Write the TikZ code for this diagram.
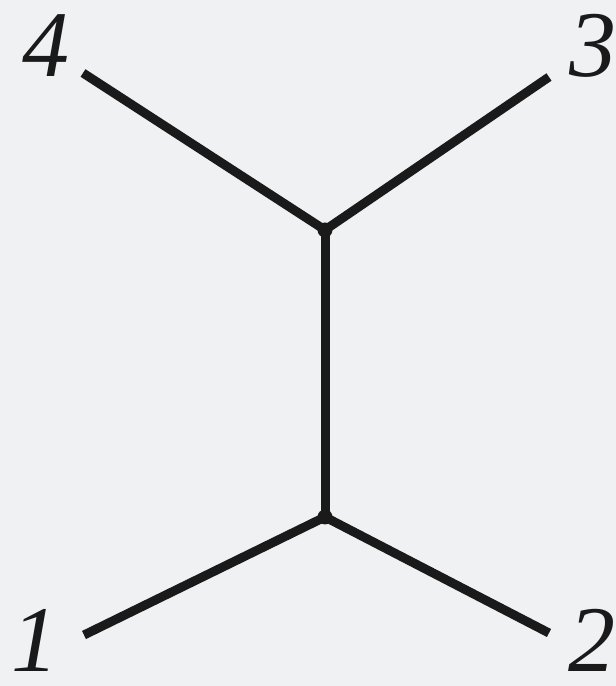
\documentclass[tikz,border=0pt]{standalone}
\usepackage{fontspec}
\newfontfamily\labelfont{Liberation Serif}[ItalicFont={Liberation Serif Italic}]
\definecolor{bgGray}{HTML}{F0F1F3}
\definecolor{lineBlack}{HTML}{1A1A1A}
\usetikzlibrary{positioning}

\begin{document}
\begin{tikzpicture}[
  x=1pt, y=1pt,
  leg/.style={line width=9pt, draw=lineBlack},
  vtx/.style={circle, fill=lineBlack, inner sep=0pt, minimum size=15pt},
  lbl/.style={font=\labelfont\fontsize{94}{94}\selectfont\itshape, text=lineBlack, inner sep=0pt}]

  \fill[bgGray] (0,0) rectangle (616,686);
  \useasboundingbox (0,0) rectangle (616,686);

  % vertices
  \node[vtx] (top) at (325,456) {};
  \node[vtx] (bot) at (325,169) {};

  % external ends
  \coordinate (e4) at (83,613);
  \coordinate (e3) at (549,609);
  \coordinate (e1) at (84,51);
  \coordinate (e2) at (549,53);

  % labels
  \node[lbl] (l4) at (46,640) {4};
  \node[lbl] (l3) at (593,640) {3};
  \node[lbl] (l1) at (35,46) {1};
  \node[lbl] (l2) at (592,46) {2};

  \draw[leg] (e4) -- (top.center) -- (e3);
  \draw[leg] (top.center) -- (bot.center);
  \draw[leg] (e1) -- (bot.center) -- (e2);
\end{tikzpicture}
\end{document}
